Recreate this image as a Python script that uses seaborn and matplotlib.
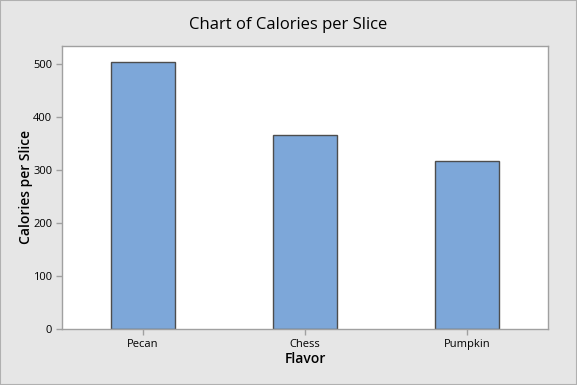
import pandas as pd
import seaborn as sns
import matplotlib.pyplot as plt

# data
flavors = ['Pecan', 'Chess', 'Pumpkin']
calories = [503, 366, 317]
y_ticks = [0, 100, 200, 300, 400, 500]

df = pd.DataFrame({'Flavor': flavors, 'Calories per Slice': calories})

sns.set_style('white')
plt.rcParams['font.family'] = ['Open Sans', 'DejaVu Sans']
plt.rcParams['text.color'] = 'black'
plt.rcParams['axes.labelcolor'] = 'black'
plt.rcParams['xtick.color'] = 'black'
plt.rcParams['ytick.color'] = 'black'

fig = plt.figure(figsize=(5.77, 3.85), dpi=100, facecolor='#e6e6e6')
ax = fig.add_axes([0.1075, 0.1455, 0.8422, 0.735])
ax.set_facecolor('white')

sns.barplot(data=df, x='Flavor', y='Calories per Slice', ax=ax,
            color='#7da7d9', width=0.4, edgecolor='#4d4d4d', linewidth=1,
            saturation=1)

ax.set_xlim(-0.5, 2.5)
ax.set_ylim(0, 534)
ax.set_yticks(y_ticks)

for s in ax.spines.values():
    s.set_color('#a0a0a0')
    s.set_linewidth(1)

ax.tick_params(axis='both', direction='out', length=4, width=1,
               color='#a0a0a0', labelcolor='black', labelsize=8, pad=3,
               left=True, bottom=True)

ax.set_xlabel('Flavor', fontsize=10, fontweight='semibold', labelpad=2)
ax.set_ylabel('Calories per Slice', fontsize=10, fontweight='semibold', labelpad=0)
fig.suptitle('Chart of Calories per Slice', fontsize=12, y=0.955, color='black')

# thin border around the whole figure
fig.patches.append(plt.Rectangle((0, 0), 1, 1, transform=fig.transFigure,
                                 fill=False, edgecolor='#b0b0b0', linewidth=1.5))

fig.savefig('out.png', dpi=100, facecolor=fig.get_facecolor())
